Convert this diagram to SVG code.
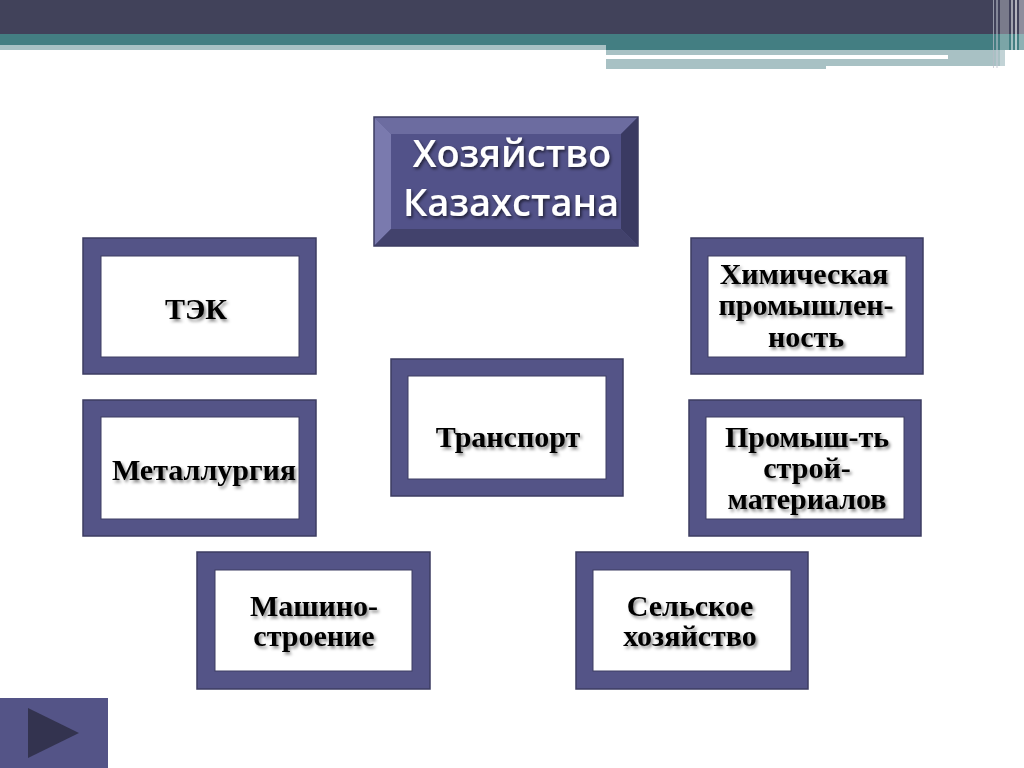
<svg xmlns="http://www.w3.org/2000/svg" width="1024" height="768" viewBox="0 0 1024 768">
<defs>
<style>
.frame{fill:#545487;stroke:#3c3c62;stroke-width:1.5}
.inner{fill:#ffffff;stroke:#3c3c62;stroke-width:1}
.lbl{font-family:"Liberation Serif","Times New Roman",serif;font-weight:bold;font-size:30px;fill:#000;text-anchor:middle;filter:url(#sh)}
.ttl{font-family:"Open Sans","Liberation Sans",sans-serif;font-size:38px;font-weight:600;fill:#fff;text-anchor:middle;filter:url(#sh2)}
</style>
<filter id="sh" x="-10%" y="-30%" width="120%" height="160%">
<feDropShadow dx="2" dy="2.5" stdDeviation="1.5" flood-color="#000" flood-opacity="0.45"/>
</filter>
<filter id="sh2" x="-10%" y="-30%" width="120%" height="160%">
<feDropShadow dx="1.5" dy="2" stdDeviation="1.5" flood-color="#000" flood-opacity="0.6"/>
</filter>
</defs>
<rect width="1024" height="768" fill="#ffffff"/>
<g id="header">
<rect x="0" y="0" width="1024" height="35" fill="#41425a"/>
<rect x="0" y="34" width="1024" height="12" fill="#437e82"/>
<rect x="0" y="45" width="606" height="5" fill="#a8c1c4"/>
<rect x="606" y="45" width="418" height="5" fill="#437e82"/>
<rect x="606" y="50" width="399" height="19" fill="#a8c1c4"/>
<rect x="606" y="55" width="342" height="4" fill="#ffffff"/>
<rect x="826" y="66" width="179" height="3" fill="#ffffff"/>
<rect x="993" y="0" width="1" height="68" fill="#b8bcc8" opacity="0.7"/>
<rect x="996" y="0" width="2" height="68" fill="#c8ccd6" opacity="0.5"/>
<rect x="1000" y="0" width="9" height="68" fill="#ffffff" opacity="0.3"/>
<rect x="1011" y="0" width="2" height="68" fill="#ffffff" opacity="0.5"/>
<rect x="1015" y="0" width="2" height="68" fill="#ffffff" opacity="0.6"/>
<rect x="1019" y="0" width="5" height="68" fill="#ffffff" opacity="0.4"/>
</g>
<g id="title">
<rect x="374" y="117" width="264" height="129" fill="#525289"/>
<polygon points="374,117 638,117 621,134 391,134" fill="#6c6ca0"/>
<polygon points="374,117 391,134 391,229 374,246" fill="#7a7aae"/>
<polygon points="638,117 638,246 621,229 621,134" fill="#3a3a62"/>
<polygon points="374,246 638,246 621,229 391,229" fill="#42426c"/>
<rect x="374" y="117" width="264" height="129" fill="none" stroke="#3c3c62" stroke-width="1.5"/>
<text class="ttl" x="512" y="167">Хозяйство</text>
<text class="ttl" x="511" y="216">Казахстана</text>
</g>
<g id="tek">
<rect class="frame" x="83" y="238" width="233" height="136"/>
<rect class="inner" x="101" y="256" width="198" height="101"/>
<text class="lbl" x="196" y="319">ТЭК</text>
</g>
<g id="chem">
<rect class="frame" x="691" y="238" width="232" height="136"/>
<rect class="inner" x="708" y="256" width="198" height="101"/>
<text class="lbl" x="804" y="284">Химическая</text>
<text class="lbl" x="806" y="315">промышлен-</text>
<text class="lbl" x="806" y="347">ность</text>
</g>
<g id="metal">
<rect class="frame" x="83" y="400" width="233" height="136"/>
<rect class="inner" x="101" y="417" width="198" height="102"/>
<text class="lbl" x="204" y="480">Металлургия</text>
</g>
<g id="transport">
<rect class="frame" x="391" y="359" width="232" height="137"/>
<rect class="inner" x="408" y="376" width="198" height="103"/>
<text class="lbl" x="508" y="447">Транспорт</text>
</g>
<g id="stroymat">
<rect class="frame" x="689" y="400" width="232" height="136"/>
<rect class="inner" x="706" y="417" width="198" height="102"/>
<text class="lbl" x="807" y="447">Промыш-ть</text>
<text class="lbl" x="807" y="478">строй-</text>
<text class="lbl" x="807" y="509">материалов</text>
</g>
<g id="mash">
<rect class="frame" x="197" y="552" width="233" height="137"/>
<rect class="inner" x="215" y="570" width="197" height="101"/>
<text class="lbl" x="314" y="616">Машино-</text>
<text class="lbl" x="314" y="646">строение</text>
</g>
<g id="agri">
<rect class="frame" x="576" y="552" width="232" height="137"/>
<rect class="inner" x="593" y="570" width="198" height="101"/>
<text class="lbl" x="690" y="616">Сельское</text>
<text class="lbl" x="690" y="646">хозяйство</text>
</g>
<g id="nav">
<rect x="0" y="698" width="108" height="70" fill="#545487"/>
<polygon points="28,708 79,733 28,758" fill="#33334f"/>
</g>
<g id="connectors"></g>
</svg>
